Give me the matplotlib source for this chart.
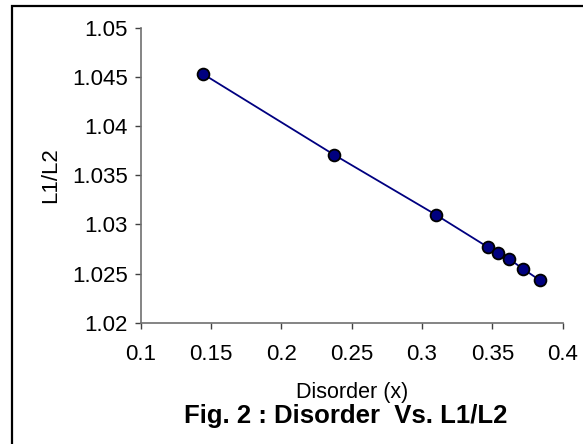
import matplotlib
matplotlib.use("Agg")
import matplotlib.pyplot as plt
from matplotlib.ticker import FuncFormatter, MultipleLocator
from matplotlib.patches import Rectangle

plt.rcParams['font.family'] = ['Liberation Sans', 'DejaVu Sans']

# Disorder parameter and corresponding L1/L2 ratio
disorder = [0.1445, 0.2374, 0.3097, 0.3467, 0.3542, 0.3618, 0.3716, 0.3839]
l1_l2 = [1.0453, 1.0371, 1.0310, 1.0277, 1.0271, 1.0265, 1.0255, 1.0243]

x_label = "Disorder (x)"
y_label = "L1/L2"
title = "Fig. 2 : Disorder  Vs. L1/L2"

W, H = 583, 444
fig = plt.figure(figsize=(W / 100, H / 100), dpi=100)
ax = fig.add_axes([140.7 / W, 1 - 322.7 / H, (562.7 - 140.7) / W, (322.7 - 28) / H])

ax.plot(disorder, l1_l2, color='#000080', lw=1.3, marker='o', ms=8.5,
        mfc='#000080', mec='black', mew=1.3, zorder=3)

ax.set_xlim(0.1, 0.4)
ax.set_ylim(1.02, 1.05)
ax.xaxis.set_major_locator(MultipleLocator(0.05))
ax.yaxis.set_major_locator(MultipleLocator(0.005))
fmt = FuncFormatter(lambda v, p: f"{v:.4g}")
ax.xaxis.set_major_formatter(fmt)
ax.yaxis.set_major_formatter(fmt)

for side in ('top', 'right'):
    ax.spines[side].set_visible(False)
for side in ('left', 'bottom'):
    ax.spines[side].set_color('#707070')
    ax.spines[side].set_linewidth(1.2)
ax.tick_params(direction='out', length=4.5, width=1.0, color='#404040',
               labelsize=16, pad=5)
ax.tick_params(axis='x', pad=11)

ax.set_ylabel(y_label, fontsize=16, labelpad=8)
fig.text(351.7 / W, 1 - 392 / H, x_label, ha='center', va='center', fontsize=15.5)
fig.text(346 / W, 1 - 416 / H, title, ha='center', va='center', fontsize=18.5,
         fontweight='bold')

# outer frame of the figure
fig.patches.append(Rectangle((12 / W, -0.05), 1.1, 1 - 6 / H + 0.05,
                             transform=fig.transFigure, fill=False,
                             edgecolor='black', lw=1.6))

fig.savefig("out.png", dpi=100)
